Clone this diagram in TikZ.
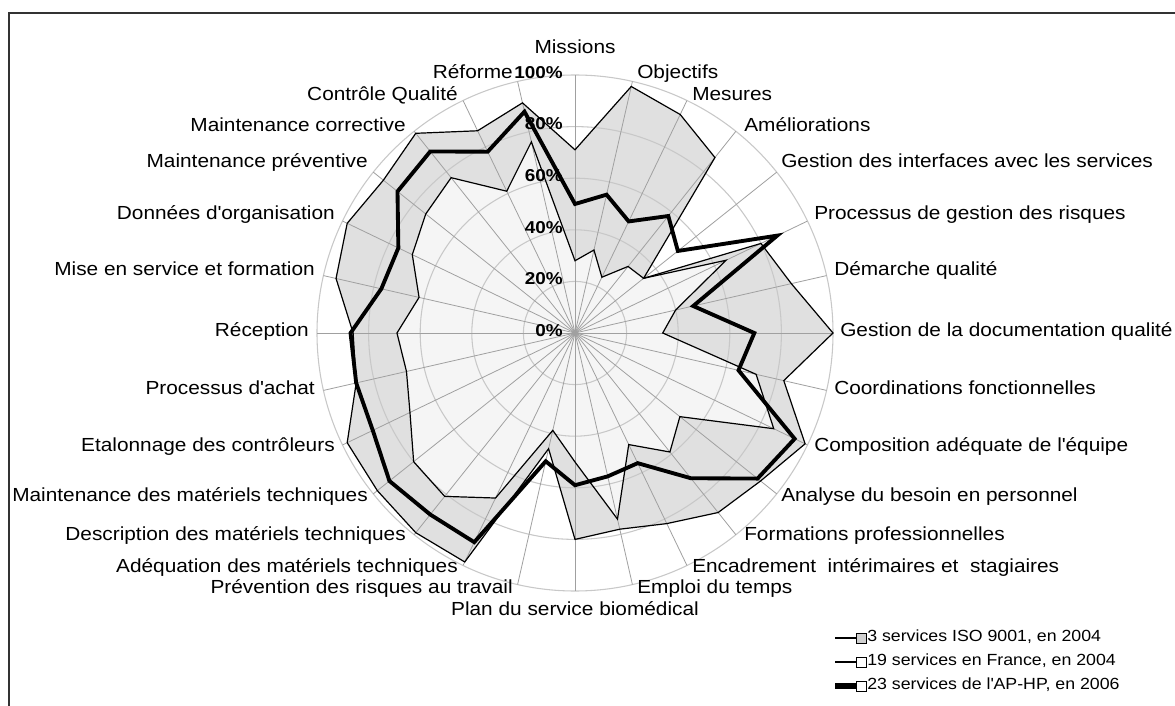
\documentclass[tikz,border=0pt]{standalone}
\usepackage{fontspec}
\setmainfont{Liberation Sans}[FakeStretch=1.1]
\definecolor{isofill}{HTML}{E0E0E0}
\definecolor{frfill}{HTML}{F5F5F5}
\definecolor{spokecol}{HTML}{A0A0A0}
\definecolor{ringcol}{HTML}{C8C8C8}
\definecolor{legsqfill}{HTML}{D0D0D0}
\newcommand{\apos}{\textquotesingle}
\begin{document}
\begin{tikzpicture}[x=0.75pt,y=-0.75pt,
  lbl/.style={inner sep=0pt,text height=0.72em,text depth=0.21em,font=\fontsize{14.2}{16}\selectfont},
  pct/.style={inner sep=0pt,anchor=east,text height=0.72em,text depth=0.21em,font=\fontsize{12.9}{15}\selectfont\bfseries},
  legtxt/.style={inner sep=0pt,anchor=west,text height=0.72em,text depth=0.21em,font=\fontsize{12.1}{14}\selectfont},
  legsq/.style={draw=black,line width=0.6pt,minimum size=7.5pt,inner sep=0pt},
  spoke/.style={draw=spokecol,line width=0.6pt},
  ring/.style={draw=ringcol,line width=0.8pt},
  thinpoly/.style={draw=black,line width=0.9pt,line join=miter},
  thickpoly/.style={draw=black,line width=2.9pt,line join=miter},
  frameline/.style={draw=black!80,line width=0.8pt}]
\useasboundingbox (0,0) rectangle (1175,706);
\fill[white] (0,0) rectangle (1175,706);
\draw[frameline] (9,706) -- (9,13) -- (1175,13);

\coordinate (O) at (575,333);
\def\R{2.58}
% axis ends
\foreach \i in {0,...,27}
  \coordinate (ax\i) at ({575+\R*100*sin(\i*360/28)},{333-\R*100*cos(\i*360/28)});
% 3 services ISO 9001
\foreach \v [count=\i from 0] in {71,98,94,87,34,80,86,100,83,99,92,89,82,78,80,46,98.5,99,98,98,87,86,95,98,95,99,87,91.5}
  \coordinate (iso\i) at ({575+\R*\v*sin(\i*360/28)},{333-\R*\v*cos(\i*360/28)});
% 19 services en France
\foreach \v [count=\i from 0] in {28,33,24,33,34,65,40,34,72,85.5,52,59,48,74,50,38.7,71,81,80,71,67,69,62,70,74,77,61,76}
  \coordinate (fr\i) at ({575+\R*\v*sin(\i*360/28)},{333-\R*\v*cos(\i*360/28)});
% 23 services AP-HP
\foreach \v [count=\i from 0] in {50,55,48,58,51,87,47,69.5,65,94.5,90.5,72,56,57,59,51,90,90,92,87,87,87,77,76,88,90,78,88}
  \coordinate (ap\i) at ({575+\R*\v*sin(\i*360/28)},{333-\R*\v*cos(\i*360/28)});

% fills
\fill[isofill] (iso0) \foreach \i in {1,...,27}{ -- (iso\i)} -- cycle;
\fill[frfill] (fr0) \foreach \i in {1,...,27}{ -- (fr\i)} -- cycle;

% grid
\foreach \p in {20,40,60,80,100}
  \draw[ring] (O) circle ({\p*\R});
\foreach \i in {0,...,27}
  \draw[spoke] (O) -- (ax\i);

% outlines
\draw[thinpoly] (iso0) \foreach \i in {1,...,27}{ -- (iso\i)} -- cycle;
\draw[thinpoly] (fr0) \foreach \i in {1,...,27}{ -- (fr\i)} -- cycle;
\draw[thickpoly] (ap0) \foreach \i in {1,...,27}{ -- (ap\i)} -- cycle;

% axis labels
\node[lbl,anchor=center] (l0) at (575,50) {Missions};
\node[lbl,anchor=west] (l1) at (637,75) {Objectifs};
\node[lbl,anchor=west] (l2) at (692,97) {Mesures};
\node[lbl,anchor=west] (l3) at (744,128) {Améliorations};
\node[lbl,anchor=west] (l4) at (781,164) {Gestion des interfaces avec les services};
\node[lbl,anchor=west] (l5) at (814,216) {Processus de gestion des risques};
\node[lbl,anchor=west] (l6) at (834,272) {Démarche qualité};
\node[lbl,anchor=west] (l7) at (840,333) {Gestion de la documentation qualité};
\node[lbl,anchor=west] (l8) at (834,391) {Coordinations fonctionnelles};
\node[lbl,anchor=west] (l9) at (814,448) {Composition adéquate de l\apos équipe};
\node[lbl,anchor=west] (l10) at (781,498) {Analyse du besoin en personnel};
\node[lbl,anchor=west] (l11) at (744,537) {Formations professionnelles};
\node[lbl,anchor=west] (l12) at (692,569) {Encadrement\ \ intérimaires et\ \ stagiaires};
\node[lbl,anchor=west] (l13) at (637,590) {Emploi du temps};
\node[lbl,anchor=center] (l14) at (575,612) {Plan du service biomédical};
\node[lbl,anchor=east] (l15) at (513,590) {Prévention des risques au travail};
\node[lbl,anchor=east] (l16) at (458,569) {Adéquation des matériels techniques};
\node[lbl,anchor=east] (l17) at (406,537) {Description des matériels techniques};
\node[lbl,anchor=east] (l18) at (368,498) {Maintenance des matériels techniques};
\node[lbl,anchor=east] (l19) at (335,448) {Etalonnage des contrôleurs};
\node[lbl,anchor=east] (l20) at (315,391) {Processus d\apos achat};
\node[lbl,anchor=east] (l21) at (309,333) {Réception};
\node[lbl,anchor=east] (l22) at (315,272) {Mise en service et formation};
\node[lbl,anchor=east] (l23) at (335,216) {Données d\apos organisation};
\node[lbl,anchor=east] (l24) at (368,164) {Maintenance préventive};
\node[lbl,anchor=east] (l25) at (406,128) {Maintenance corrective};
\node[lbl,anchor=east] (l26) at (458,97) {Contrôle Qualité};
\node[lbl,anchor=east] (l27) at (513,75) {Réforme};

% percent labels
\node[pct] (p0) at (563,333) {0\%};
\node[pct] (p20) at (563,281) {20\%};
\node[pct] (p40) at (563,230) {40\%};
\node[pct] (p60) at (563,178) {60\%};
\node[pct] (p80) at (563,126) {80\%};
\node[pct] (p100) at (563,75) {100\%};

% legend
\coordinate (la1) at (835,638); \coordinate (lb1) at (856,638);
\coordinate (la2) at (835,662); \coordinate (lb2) at (856,662);
\coordinate (la3) at (835,686); \coordinate (lb3) at (856,686);
\draw[black,line width=1.5pt] (la1) -- (lb1);
\draw[black,line width=1.5pt] (la2) -- (lb2);
\draw[black,line width=3.8pt] (la3) -- (lb3);
\node[legsq,fill=legsqfill] (sq1) at (861,638) {};
\node[legsq,fill=white] (sq2) at (861,662) {};
\node[legsq,fill=white] (sq3) at (861,686) {};
\node[legtxt] (t1) at (867,638) {3 services ISO 9001, en 2004};
\node[legtxt] (t2) at (867,662) {19 services en France, en 2004};
\node[legtxt] (t3) at (867,686) {23 services de l\apos AP-HP, en 2006};
\end{tikzpicture}
\end{document}
